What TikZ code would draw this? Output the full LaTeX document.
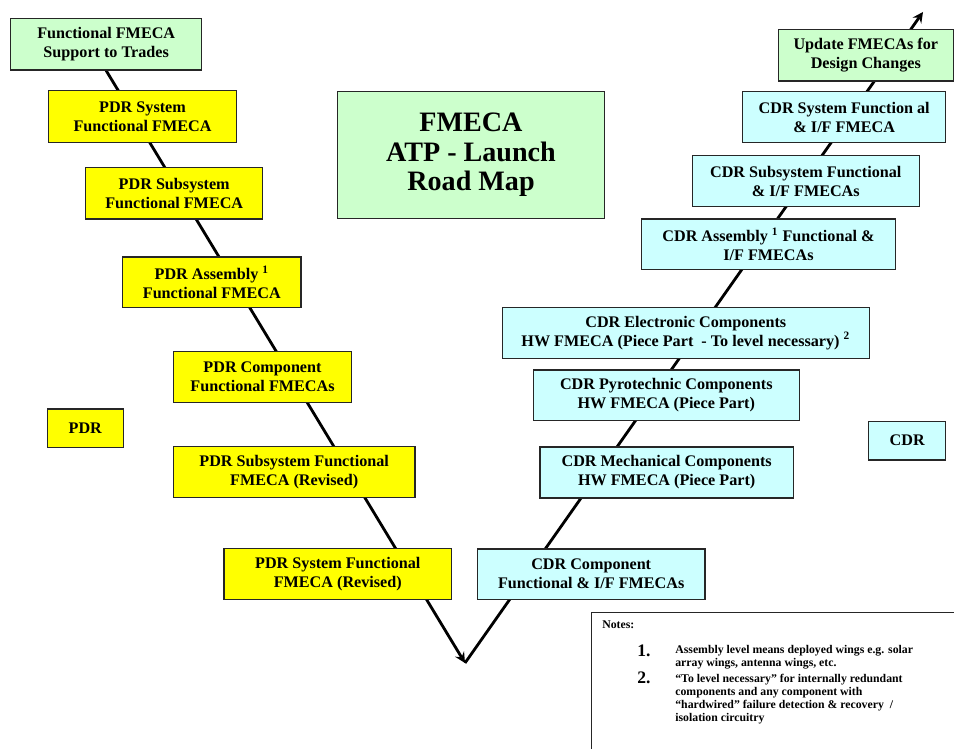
\documentclass[tikz,border=0pt]{standalone}
\usepackage{fontspec}
\setmainfont{Liberation Serif}
\usetikzlibrary{positioning,backgrounds}

\definecolor{mapgreen}{RGB}{204,255,204}
\definecolor{mapyellow}{RGB}{255,255,0}
\definecolor{mapcyan}{RGB}{204,255,255}

\newcommand{\mapfont}{\fontsize{9.2}{10.8}\selectfont\bfseries}
\newcommand{\titlefont}{\fontsize{16}{16.7}\selectfont\bfseries}
\newcommand{\notefont}{\fontsize{6.7}{7.55}\selectfont\bfseries}
\newcommand{\numfont}{\fontsize{10}{10}\selectfont\bfseries}

\begin{document}
\begin{tikzpicture}[x=0.02cm, y=-0.02cm,
    box/.style={draw=black!85, line width=0.7pt, align=center, font=\mapfont, inner sep=2pt},
    boxsize/.style 2 args={minimum width=#1*0.02cm, minimum height=#2*0.02cm},
    greenbox/.style={box, fill=mapgreen},
    yellowbox/.style={box, fill=mapyellow},
    cyanbox/.style={box, fill=mapcyan},
    road/.style={line width=1.6pt, ->, >=stealth}]
      \clip (0,0) rectangle (954,749);
      % PDR side of the V
      \node[greenbox, boxsize={191}{51.7}] (trades) at (106.2,44.2) {Functional FMECA\\Support to Trades};
      \node[yellowbox, boxsize={188.4}{52}] (pdrsys) at (142.5,116.7) {PDR System\\Functional FMECA};
      \node[yellowbox, boxsize={177}{51.3}] (pdrsub) at (174.2,193.4) {PDR Subsystem\\Functional FMECA};
      \node[yellowbox, boxsize={178.3}{50.7}] (pdrasm) at (211.8,282.4) {PDR Assembly \textsuperscript{1}\\Functional FMECA};
      \node[yellowbox, boxsize={178.4}{50.6}] (pdrcomp) at (262.5,377) {PDR Component\\Functional FMECAs};
      \node[yellowbox, boxsize={76}{38.3}] (pdr) at (85.3,428.2) {PDR};
      \node[yellowbox, boxsize={241.7}{51}] (pdrsubrev) at (294.2,472.2) {PDR Subsystem Functional\\FMECA (Revised)};
      \node[yellowbox, boxsize={227.7}{51}] (pdrsysrev) at (337.8,573.8) {PDR System Functional\\FMECA (Revised)};
      % title
      \node[greenbox, boxsize={266.6}{126.6}, font=\titlefont] (title) at (471,155) {FMECA\\ATP - Launch\\Road Map};
      % CDR side of the V
      \node[cyanbox, boxsize={227.7}{50.3}] (cdrcomp) at (591.2,574.2) {CDR Component\\Functional \& I/F FMECAs};
      \node[cyanbox, boxsize={253.3}{51}] (cdrmech) at (666.7,472.5) {CDR Mechanical Components\\HW FMECA (Piece Part)};
      \node[cyanbox, boxsize={266}{50.7}] (cdrpyro) at (666.3,395.3) {CDR Pyrotechnic Components\\HW FMECA (Piece Part)};
      \node[cyanbox, boxsize={367}{51}] (cdrelec) at (685.8,332.8) {CDR Electronic Components\\HW FMECA (Piece Part\ \ - To level necessary) \textsuperscript{2}};
      \node[cyanbox, boxsize={253.6}{50.3}] (cdrasm) at (768.5,244.2) {CDR Assembly \textsuperscript{1} Functional \&\\I/F FMECAs};
      \node[cyanbox, boxsize={227}{51}] (cdrsub) at (805.8,181.2) {CDR Subsystem Functional\\\& I/F FMECAs};
      \node[cyanbox, boxsize={203}{50.6}] (cdrsys) at (844.2,117) {CDR System Function al\\\& I/F FMECA};
      \node[greenbox, boxsize={175}{51.7}] (update) at (865.8,55.2) {Update FMECAs for\\Design Changes};
      \node[cyanbox, boxsize={77}{38.7}] (cdr) at (907.2,440.7) {CDR};
      % the V behind the boxes
      \coordinate (vtip) at (465,663);
      \coordinate (vend) at (923,12);
      \begin{scope}[on background layer]
        \draw[road] (trades.south) -- (vtip);
        \draw[road] (vtip) -- (vend);
      \end{scope}
      % notes
      \node[draw=black!85, line width=0.7pt, anchor=north west, boxsize={369}{148}] (notes) at (591,612) {};
      \node[anchor=west, font=\notefont, inner sep=0pt] (noteshead) at (602,625) {Notes:};
      \node[font=\numfont] (num1) at (644,651) {1.};
      \node[font=\numfont] (num2) at (644,678) {2.};
      \node[anchor=north west, align=left, font=\notefont, inner sep=0pt] (note1) at (675,644.5) {Assembly level means deployed wings e.g. solar\\array wings, antenna wings, etc.};
      \node[anchor=north west, align=left, font=\notefont, inner sep=0pt] (note2) at (675,673.5) {``To level necessary'' for internally redundant\\components and any component with\\``hardwired'' failure detection \& recovery\ \ /\\isolation circuitry};
\end{tikzpicture}
\end{document}
